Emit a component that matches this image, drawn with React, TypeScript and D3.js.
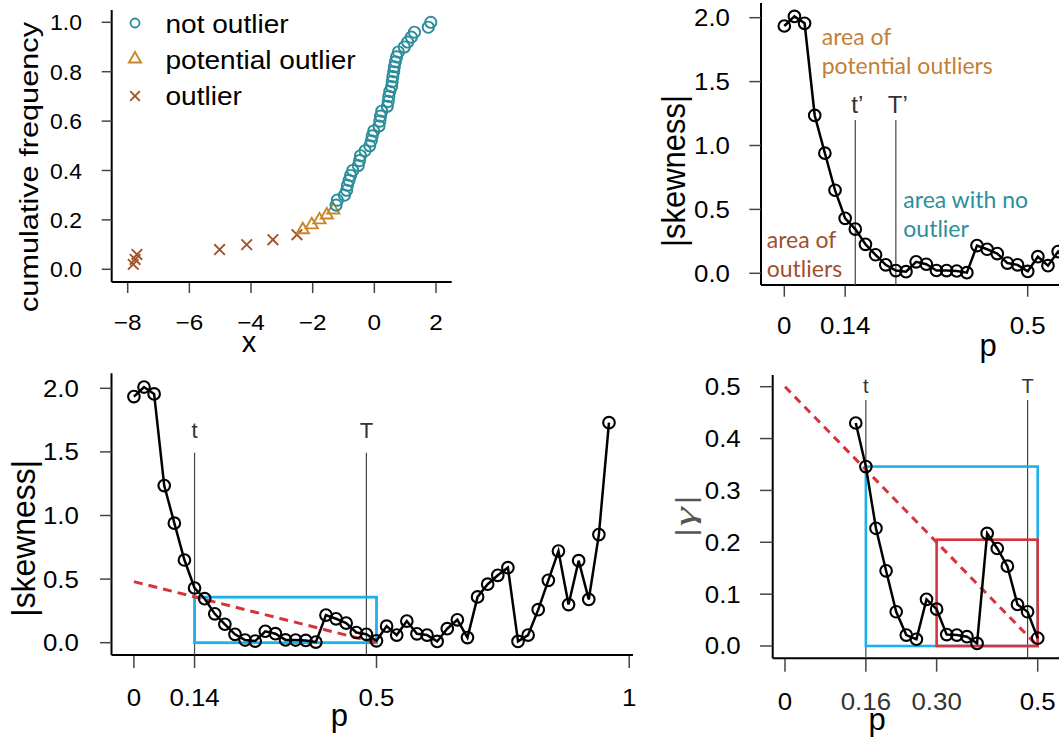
import React from 'react';
import * as d3 from 'd3';

const SANS = "'Liberation Sans', Arial, Helvetica, sans-serif";
const ANNO = "Lato, 'Open Sans', sans-serif";

// ---------- Panel 1 data (cumulative frequency) ----------
const OUT_X = [-7.82, -7.76, -7.7, -5.02, -4.14, -3.29, -2.51];
const OUT_Y = [0.02, 0.04, 0.06, 0.08, 0.1, 0.12, 0.14];
const POT_X = [-2.32, -2.03, -1.78, -1.54, -1.33];
const POT_Y = [0.16, 0.18, 0.2, 0.22, 0.24];
const NOT_X = [-1.24, -1.2, -0.97, -0.9, -0.87, -0.82, -0.77, -0.7, -0.52, -0.48,
  -0.45, -0.3, -0.15, -0.1, -0.07, -0.02, 0.15, 0.18, 0.2, 0.24,
  0.42, 0.45, 0.47, 0.5, 0.56, 0.58, 0.6, 0.63, 0.65, 0.68,
  0.72, 0.78, 0.97, 1.08, 1.2, 1.3, 1.75, 1.83];
const NOT_Y = [0.26, 0.28, 0.3, 0.32, 0.34, 0.36, 0.38, 0.4, 0.42, 0.44,
  0.46, 0.48, 0.5, 0.52, 0.54, 0.56, 0.58, 0.6, 0.62, 0.64,
  0.66, 0.68, 0.7, 0.72, 0.74, 0.76, 0.78, 0.8, 0.82, 0.84,
  0.86, 0.88, 0.9, 0.92, 0.94, 0.96, 0.98, 1.0];
const P1_XTICKS = [-8, -6, -4, -2, 0, 2];
const P1_YTICKS = [0, 0.2, 0.4, 0.6, 0.8, 1.0];
const LEGEND = ['not outlier', 'potential outlier', 'outlier'];

// ---------- |skewness| series ----------
const P = [0.02, 0.04, 0.06, 0.08, 0.1, 0.12, 0.14, 0.16, 0.18, 0.2,
  0.22, 0.24, 0.26, 0.28, 0.3, 0.32, 0.34, 0.36, 0.38, 0.4,
  0.42, 0.44, 0.46, 0.48, 0.5, 0.52, 0.54, 0.56, 0.58, 0.6,
  0.62, 0.64, 0.66, 0.68, 0.7, 0.72, 0.74, 0.76, 0.78, 0.8,
  0.82, 0.84, 0.86, 0.88, 0.9, 0.92, 0.94, 0.96];
const SKEW = [1.935, 2.01, 1.956, 1.235, 0.94, 0.65, 0.43, 0.346, 0.227, 0.145,
  0.066, 0.021, 0.013, 0.09, 0.071, 0.022, 0.021, 0.018, 0.005, 0.217,
  0.188, 0.154, 0.08, 0.066, 0.015, 0.13, 0.06, 0.17, 0.07, 0.06,
  0.01, 0.11, 0.18, 0.04, 0.36, 0.46, 0.53, 0.59, 0.01, 0.06,
  0.26, 0.49, 0.72, 0.3, 0.645, 0.34, 0.85, 1.73];
const SK_YTICKS = [0, 0.5, 1.0, 1.5, 2.0];
const P2_XTICKS = [0.02, 0.14, 0.5];
const P2_XLABELS = ['0', '0.14', '0.5'];
const P3_XTICKS = [0.02, 0.14, 0.5, 1];
const P3_XLABELS = ['0', '0.14', '0.5', '1'];
const P4_XTICKS = [0, 0.16, 0.3, 0.5];
const P4_XLABELS = ['0', '0.16', '0.30', '0.5'];
const P4_YTICKS = [0, 0.1, 0.2, 0.3, 0.4, 0.5];

// thresholds / boxes
const P2_LINES = [{ p: 0.16, label: 't\u2019' }, { p: 0.24, label: 'T\u2019' }];
const P3_LINES = [{ p: 0.14, label: 't' }, { p: 0.48, label: 'T' }];
const P4_LINES = [{ p: 0.16, label: 't' }, { p: 0.48, label: 'T' }];
const P3_BOXES = [{ x0: 0.14, x1: 0.5, y1: 0.358 }, { x0: 0.48, x1: 0.5, y1: 0.02 }];
const P4_BLUE = { x0: 0.16, x1: 0.5, y1: 0.346 };
const P4_RED = { x0: 0.3, x1: 0.5, y1: 0.205 };
const P3_DASH = [[0.02, 0.48], [0.5, 0.0]];
const P4_DASH = [[0, 0.5], [0.5, 0.0]];

const TEAL = '#2b8d9a';
const ORANGE = '#c98528';
const BROWN = '#a3522b';
const BLUE = '#1cb1ea';
const RED = '#d8323b';
const GREY = '#444';
const TFS = 23.5; // tick font size
const TOFF = 0.358 * TFS;

type LP = { x: number; y: number; text: string; fs: number; anchor?: string; sx?: number; fill?: string; family?: string; rot?: boolean; len?: number; italic?: boolean };
const Label = ({ x, y, text, fs, anchor = 'middle', sx = 1, fill = '#000', family = SANS, rot = false, len, italic }: LP) => {
  const transform = rot
    ? `translate(${x},${y}) rotate(-90) scale(1,${sx})`
    : `translate(${x},${y}) scale(${sx},1)`;
  return (
    <text transform={transform} fontSize={fs} textAnchor={anchor} fill={fill} fontFamily={family}
      fontStyle={italic ? 'italic' : 'normal'}
      textLength={len} lengthAdjust={len ? 'spacingAndGlyphs' : undefined}>{text}</text>
  );
};

const fmt1 = (v: number) => v.toFixed(1);

function Panel1() {
  const x = d3.scaleLinear().domain([-8, 2]).range([127.7, 436]);
  const y = d3.scaleLinear().domain([0, 1]).range([269.3, 22.3]);
  const tri = d3.symbol().type(d3.symbolTriangle).size(64)();
  const cross = (cx: number, cy: number, c: string, k: string, h = 5.3) => (
    <path key={k} d={`M${cx - h},${cy - h}L${cx + h},${cy + h}M${cx - h},${cy + h}L${cx + h},${cy - h}`} stroke={c} strokeWidth={1.9} fill="none" />
  );
  const legY = [23, 59, 96];
  const legBase = [32.5, 68.5, 104.5];
  return (
    <g>
      <line x1={111.7} x2={111.7} y1={10} y2={282} stroke="#000" strokeWidth={2} />
      <line x1={111.7} x2={451.7} y1={282} y2={282} stroke="#000" strokeWidth={2} />
      {P1_YTICKS.map(t => (
        <g key={'y' + t}>
          <line x1={101.7} x2={111.7} y1={y(t)} y2={y(t)} stroke={GREY} strokeWidth={1.5} />
          <Label x={82} y={y(t) + 0.358 * 22.5} text={fmt1(t)} fs={22.5} anchor="end" sx={1.02} />
        </g>
      ))}
      {P1_XTICKS.map(t => (
        <g key={'x' + t}>
          <line x1={x(t)} x2={x(t)} y1={283} y2={293} stroke={GREY} strokeWidth={1.5} />
          <Label x={x(t)} y={330} text={t < 0 ? '\u2212' + Math.abs(t) : String(t)} fs={22.5} sx={1.08} />
        </g>
      ))}
      <Label x={249} y={352} text="x" fs={29} />
      <Label x={37.5} y={167} text="cumulative frequency" fs={25.5} rot len={290} />
      {OUT_X.map((v, i) => cross(x(v), y(OUT_Y[i]), BROWN, 'o' + i))}
      {POT_X.map((v, i) => (
        <path key={'p' + i} d={tri} transform={`translate(${x(v)},${y(POT_Y[i])})`} fill="none" stroke={ORANGE} strokeWidth={1.9} />
      ))}
      {NOT_X.map((v, i) => (
        <circle key={'n' + i} cx={x(v)} cy={y(NOT_Y[i])} r={5.6} fill="none" stroke={TEAL} strokeWidth={1.9} />
      ))}
      {/* legend */}
      <circle cx={135} cy={legY[0]} r={4.5} fill="none" stroke={TEAL} strokeWidth={1.8} />
      <path d={tri} transform={`translate(135,${legY[1]})`} fill="none" stroke={ORANGE} strokeWidth={1.9} />
      {cross(135, legY[2], BROWN, 'leg', 4.8)}
      {LEGEND.map((t, i) => (
        <Label key={t} x={165.5} y={legBase[i]} text={t} fs={25.5} anchor="start" sx={1.1} />
      ))}
    </g>
  );
}

function SkewSeries({ x, y, ps, vs }: { x: any; y: any; ps: number[]; vs: number[] }) {
  const line = d3.line<number>().x((_, i) => x(ps[i])).y(d => y(d));
  return (
    <g>
      <path d={line(vs) || ''} fill="none" stroke="#000" strokeWidth={2.5} />
      {vs.map((v, i) => (
        <circle key={i} cx={x(ps[i])} cy={y(v)} r={5.8} fill="none" stroke="#000" strokeWidth={2.1} />
      ))}
    </g>
  );
}

function Panel2() {
  const x = d3.scaleLinear().domain([0.02, 0.5]).range([784.3, 1027.7]);
  const y = d3.scaleLinear().domain([0, 2]).range([273.3, 17.7]);
  return (
    <g>
      <line x1={761} x2={761} y1={3} y2={285} stroke="#000" strokeWidth={2} />
      <line x1={761} x2={1059} y1={285} y2={285} stroke="#000" strokeWidth={2} />
      {SK_YTICKS.map(t => (
        <g key={'y' + t}>
          <line x1={749.3} x2={761} y1={y(t)} y2={y(t)} stroke={GREY} strokeWidth={1.5} />
          <Label x={730} y={y(t) + TOFF} text={fmt1(t)} fs={TFS} anchor="end" sx={1.1} />
        </g>
      ))}
      {P2_XTICKS.map((t, i) => (
        <g key={'x' + t}>
          <line x1={x(t)} x2={x(t)} y1={286} y2={296.7} stroke={GREY} strokeWidth={1.5} />
          <Label x={x(t)} y={333.5} text={P2_XLABELS[i]} fs={TFS} sx={1.1} />
        </g>
      ))}
      <Label x={988} y={356} text="p" fs={31} />
      <Label x={684.8} y={171} text="|skewness|" fs={33} rot len={152} />
      {P2_LINES.map(l => (
        <g key={l.label}>
          <line x1={x(l.p)} x2={x(l.p)} y1={120} y2={285} stroke={GREY} strokeWidth={1.2} />
          <Label x={x(l.p) + 2} y={113} text={l.label} fs={24} fill="#333" />
        </g>
      ))}
      <SkewSeries x={x} y={y} ps={P} vs={SKEW} />
      <Label x={821.7} y={45} text="area of" fs={23} anchor="start" fill="#c47f37" family={ANNO} />
      <Label x={821.7} y={74} text="potential outliers" fs={23} anchor="start" fill="#c47f37" family={ANNO} />
      <Label x={903.3} y={208.3} text="area with no" fs={23} anchor="start" fill="#2c8f9b" family={ANNO} />
      <Label x={903.3} y={237.3} text="outlier" fs={23} anchor="start" fill="#2c8f9b" family={ANNO} />
      <Label x={766.7} y={248.3} text="area of" fs={23} anchor="start" fill="#a04f2f" family={ANNO} />
      <Label x={766.7} y={277.3} text="outliers" fs={23} anchor="start" fill="#a04f2f" family={ANNO} />
    </g>
  );
}

function Panel3() {
  const x = d3.scaleLinear().domain([0.02, 1]).range([133.9, 629.2]);
  const y = d3.scaleLinear().domain([0, 2]).range([642.7, 388.3]);
  const dash = d3.line<number[]>().x(d => x(d[0])).y(d => y(d[1]));
  return (
    <g>
      <line x1={111.5} x2={111.5} y1={373.3} y2={655} stroke="#000" strokeWidth={2} />
      <line x1={111.5} x2={633} y1={655} y2={655} stroke="#000" strokeWidth={2} />
      {SK_YTICKS.map(t => (
        <g key={'y' + t}>
          <line x1={100} x2={111.5} y1={y(t)} y2={y(t)} stroke={GREY} strokeWidth={1.5} />
          <Label x={78.8} y={y(t) + TOFF} text={fmt1(t)} fs={TFS} anchor="end" sx={1.1} />
        </g>
      ))}
      {P3_XTICKS.map((t, i) => (
        <g key={'x' + t}>
          <line x1={x(t)} x2={x(t)} y1={656} y2={668} stroke={GREY} strokeWidth={1.5} />
          <Label x={x(t)} y={705.5} text={P3_XLABELS[i]} fs={TFS} sx={1.1} />
        </g>
      ))}
      <Label x={339.4} y={726} text="p" fs={31} />
      <Label x={34.6} y={538.3} text="|skewness|" fs={33} rot len={156.7} />
      {P3_LINES.map(l => (
        <g key={l.label}>
          <line x1={x(l.p)} x2={x(l.p)} y1={452.7} y2={655} stroke={GREY} strokeWidth={1.2} />
          <Label x={x(l.p)} y={438.3} text={l.label} fs={22} fill="#333" />
        </g>
      ))}
      {P3_BOXES.map((b, i) => (
        <rect key={i} x={x(b.x0)} y={y(b.y1)} width={x(b.x1) - x(b.x0)} height={y(0) - y(b.y1)} fill="none" stroke={BLUE} strokeWidth={2.8} />
      ))}
      <path d={dash(P3_DASH) || ''} fill="none" stroke={RED} strokeWidth={3} strokeDasharray="9 6" />
      <SkewSeries x={x} y={y} ps={P} vs={SKEW} />
    </g>
  );
}

function Panel4() {
  const x = d3.scaleLinear().domain([0, 0.5]).range([785, 1037.7]);
  const y = d3.scaleLinear().domain([0, 0.5]).range([646, 386.7]);
  const dash = d3.line<number[]>().x(d => x(d[0])).y(d => y(d[1]));
  const idx = P.map((p, i) => i).filter(i => P[i] >= 0.139 && P[i] <= 0.501);
  const ps = idx.map(i => P[i]);
  const vs = idx.map(i => SKEW[i]);
  const box = (b: any, c: string) => (
    <rect x={x(b.x0)} y={y(b.y1)} width={x(b.x1) - x(b.x0)} height={y(0) - y(b.y1)} fill="none" stroke={c} strokeWidth={2.6} />
  );
  return (
    <g>
      <line x1={772.7} x2={772.7} y1={375} y2={658.3} stroke="#000" strokeWidth={2} />
      <line x1={772.7} x2={1059} y1={658.3} y2={658.3} stroke="#000" strokeWidth={2} />
      {P4_YTICKS.map(t => (
        <g key={'y' + t}>
          <line x1={760} x2={772.7} y1={y(t)} y2={y(t)} stroke={GREY} strokeWidth={1.5} />
          <Label x={740.7} y={y(t) + TOFF} text={fmt1(t)} fs={TFS} anchor="end" sx={1.1} />
        </g>
      ))}
      {P4_XTICKS.map((t, i) => (
        <g key={'x' + t}>
          <line x1={x(t)} x2={x(t)} y1={659} y2={671.7} stroke={GREY} strokeWidth={1.5} />
          <Label x={x(t)} y={709.5} text={P4_XLABELS[i]} fs={TFS} sx={1.1} fill={i === 1 || i === 2 ? '#333' : '#000'} />
        </g>
      ))}
      <Label x={877} y={729.5} text="p" fs={31} />
      <Label x={695.4} y={517} text="|γ|" fs={30} rot len={46} fill="#555" family="'Liberation Serif', serif" italic />
      {P4_LINES.map(l => (
        <g key={l.label}>
          <line x1={x(l.p)} x2={x(l.p)} y1={400} y2={658.3} stroke={GREY} strokeWidth={1.2} />
          <Label x={x(l.p)} y={393} text={l.label} fs={20} fill="#333" />
        </g>
      ))}
      {box(P4_BLUE, BLUE)}
      {box(P4_RED, RED)}
      <path d={dash(P4_DASH) || ''} fill="none" stroke={RED} strokeWidth={3} strokeDasharray="8 6" />
      <SkewSeries x={x} y={y} ps={ps} vs={vs} />
    </g>
  );
}

export default function App() {
  return (
    <svg width={1059} height={740} style={{ position: 'absolute', left: 0, top: 0, background: '#fff' }}>
      <rect x={0} y={0} width={1059} height={740} fill="#fff" />
      <Panel1 />
      <Panel2 />
      <Panel3 />
      <Panel4 />
    </svg>
  );
}
